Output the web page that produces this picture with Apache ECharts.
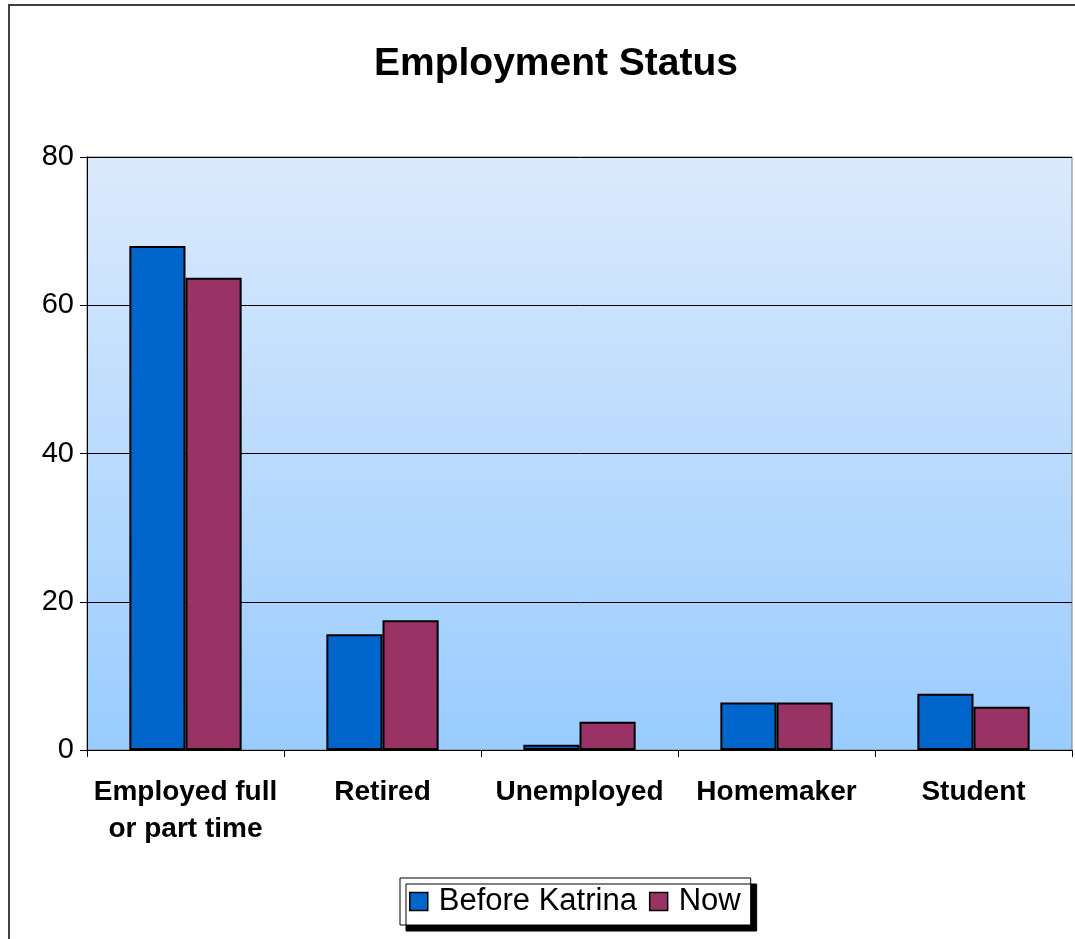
<!DOCTYPE html>
<html>
<head>
<meta charset="utf-8">
<script src="https://cdn.jsdelivr.net/npm/echarts@6/dist/echarts.min.js"></script>
<style>
  html, body { margin: 0; padding: 0; background: #fff; }
  #main { width: 1075px; height: 939px; }
</style>
</head>
<body>
<div id="main"></div>
<script>
// data
const categories = ["Employed full\nor part time", "Retired", "Unemployed", "Homemaker", "Student"];
const beforeKatrina = [68, 15.6, 0.7, 6.4, 7.6];
const now = [63.7, 17.5, 3.8, 6.4, 5.85];
const yTicks = [0, 20, 40, 60, 80];

const chart = echarts.init(document.getElementById("main"), null, { renderer: "canvas" });

const option = {
  animation: false,
  textStyle: { fontFamily: "Liberation Sans, Arial, sans-serif" },
  title: {
    text: "Employment Status",
    left: 551,
    textAlign: "center",
    top: 40,
    textStyle: { fontSize: 39, fontWeight: "bold", color: "#000", fontFamily: "Liberation Sans, Arial, sans-serif" },
  },
  // outer chart frame
  graphic: [
    {
      type: "rect",
      shape: { x: 9, y: 5, width: 1100, height: 1000 },
      style: { fill: null, stroke: "#404040", lineWidth: 2 },
      silent: true,
    },
  ],
  grid: {
    left: 87,
    top: 157,
    right: 3,
    bottom: 189,
    show: true,
    borderColor: "#808080",
    borderWidth: 1,
    backgroundColor: {
      type: "linear",
      x: 0, y: 0, x2: 0, y2: 1,
      colorStops: [
        { offset: 0, color: "#dbeafc" },
        { offset: 1, color: "#99ccff" },
      ],
    },
  },
  legend: {
    top: 878,
    left: 400,
    itemWidth: 18,
    itemHeight: 18,
    itemGap: 12,
    padding: [8, 10, 8, 9],
    backgroundColor: "#fff",
    borderColor: "#000",
    borderWidth: 1,
    shadowColor: "#000",
    shadowOffsetX: 6,
    shadowOffsetY: 6,
    shadowBlur: 0,
    icon: "rect",
    textStyle: { fontSize: 31, color: "#000", padding: [0, 0, 0, 6] },
    data: [
      { name: "Before Katrina", itemStyle: { borderColor: "#000", borderWidth: 1.5 } },
      { name: "Now", itemStyle: { borderColor: "#000", borderWidth: 1.5 } },
    ],
  },
  xAxis: {
    type: "category",
    data: categories,
    axisLine: { lineStyle: { color: "#000", width: 1 } },
    axisTick: { show: true, alignWithLabel: false, length: 7, lineStyle: { color: "#000" } },
    axisLabel: {
      fontSize: 28,
      fontWeight: "bold",
      color: "#000",
      margin: 24,
      lineHeight: 37,
      interval: 0,
    },
  },
  yAxis: {
    type: "value",
    min: yTicks[0],
    max: yTicks[yTicks.length - 1],
    interval: 20,
    axisLine: { show: true, lineStyle: { color: "#000" } },
    axisTick: { show: true, length: 7, lineStyle: { color: "#000" } },
    splitLine: { show: true, lineStyle: { color: "#000", width: 1 } },
    axisLabel: { fontSize: 29, color: "#000", margin: 13 },
  },
  series: [
    {
      name: "Before Katrina",
      type: "bar",
      data: beforeKatrina,
      barGap: "0%",
      barCategoryGap: "43%",
      itemStyle: { color: "#0066cc", borderColor: "#000", borderWidth: 2 },
    },
    {
      name: "Now",
      type: "bar",
      data: now,
      itemStyle: { color: "#993366", borderColor: "#000", borderWidth: 2 },
    },
  ],
};

chart.setOption(option);
</script>
</body>
</html>
